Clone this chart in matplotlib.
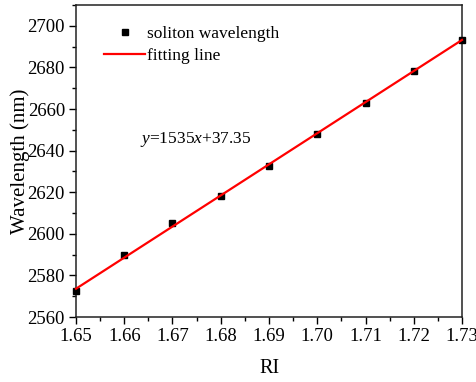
import matplotlib
matplotlib.use("Agg")
import matplotlib.pyplot as plt
from matplotlib.ticker import MultipleLocator
from matplotlib.lines import Line2D

plt.rcParams['font.family'] = ['Liberation Serif', 'DejaVu Serif']
plt.rcParams['mathtext.fontset'] = 'custom'
plt.rcParams['mathtext.rm'] = 'Liberation Serif'
plt.rcParams['mathtext.it'] = 'Liberation Serif:italic'

ri = [1.65, 1.66, 1.67, 1.68, 1.69, 1.70, 1.71, 1.72, 1.73]
wavelength = [2572.5, 2589.6, 2605.4, 2618.2, 2632.6, 2648.2, 2663.0, 2678.3, 2693.4]
fit_x = [1.65, 1.73]
fit_y = [2573.6, 2693.2]
xticks = [1.65, 1.66, 1.67, 1.68, 1.69, 1.70, 1.71, 1.72, 1.73]
yticks = [2560, 2580, 2600, 2620, 2640, 2660, 2680, 2700]

fig = plt.figure(figsize=(4.76, 3.82), dpi=100)
ax = fig.add_axes([76/476, 1-317/382, (462-76)/476, (317-5)/382])

ax.plot(ri, wavelength, 's', color='black', markersize=5, clip_on=False, zorder=3)
ax.plot(fit_x, fit_y, '-', color='#ff0000', linewidth=1.6, clip_on=False, zorder=4)

ax.set_xlim(1.65, 1.73)
ax.set_ylim(2560, 2710)
ax.set_xticks(xticks)
ax.set_xticklabels([f"{v:.2f}" for v in xticks])
ax.set_yticks(yticks)
ax.xaxis.set_minor_locator(MultipleLocator(0.005))
ax.yaxis.set_minor_locator(MultipleLocator(10))
ax.tick_params(which='major', direction='out', length=5, width=1, labelsize=13.5, pad=3)
ax.tick_params(which='minor', direction='out', length=3, width=1)
for s in ax.spines.values():
    s.set_linewidth(1.1)
    s.set_color('#222222')

ax.set_xlabel('RI', fontsize=14.5, labelpad=10)
ax.set_ylabel('Wavelength (nm)', fontsize=15, labelpad=-2)

handles = [Line2D([], [], marker='s', color='black', linestyle='none', markersize=5),
           Line2D([], [], color='#ff0000', linewidth=1.6)]
ax.legend(handles, ['soliton wavelength', 'fitting line'], loc='upper left',
          bbox_to_anchor=(0.045, 0.965), frameon=False, fontsize=12.5,
          handlelength=2.4, handletextpad=0.1, labelspacing=0.3, borderaxespad=0.2)

ax.text(0.166, 0.57, r'$y$=1535$x$+37.35', transform=ax.transAxes, fontsize=12.5,
        ha='left', va='center')

fig.savefig('out.png', dpi=100)
